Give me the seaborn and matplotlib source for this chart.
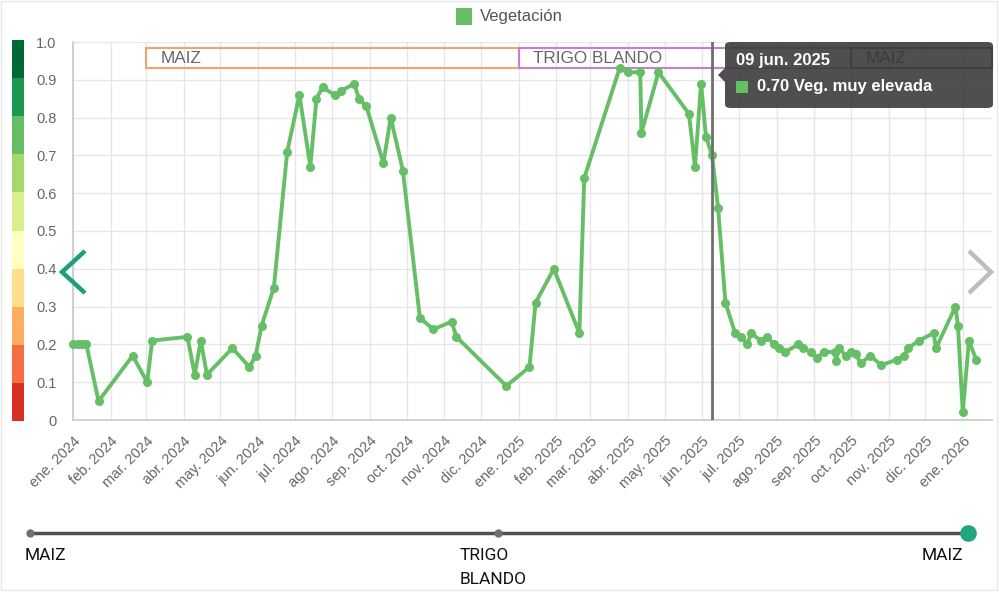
import matplotlib
matplotlib.use("Agg")
import matplotlib.pyplot as plt
import matplotlib.dates as mdates
from matplotlib.patches import Rectangle, FancyBboxPatch, Polygon
from matplotlib.lines import Line2D
import seaborn as sns
import pandas as pd
import numpy as np

# ---------------- data ----------------
fechas = [
    "2024-01-01", "2024-01-05", "2024-01-08", "2024-01-12", "2024-01-22", "2024-02-19",
    "2024-03-02", "2024-03-06", "2024-04-04", "2024-04-10", "2024-04-15", "2024-04-20",
    "2024-05-11", "2024-05-25", "2024-05-30", "2024-06-04", "2024-06-14", "2024-06-25",
    "2024-07-05", "2024-07-14", "2024-07-19", "2024-07-24", "2024-08-03", "2024-08-08",
    "2024-08-19", "2024-08-23", "2024-08-29", "2024-09-12", "2024-09-18", "2024-09-28",
    "2024-10-12", "2024-10-23", "2024-11-07", "2024-11-11", "2024-12-22", "2025-01-10",
    "2025-01-15", "2025-01-30", "2025-02-20", "2025-02-24", "2025-03-25", "2025-04-01",
    "2025-04-11", "2025-04-12", "2025-04-26", "2025-05-21", "2025-05-26", "2025-05-31",
    "2025-06-04", "2025-06-09", "2025-06-14", "2025-06-20", "2025-06-28", "2025-07-03",
    "2025-07-08", "2025-07-11", "2025-07-19", "2025-07-24", "2025-07-30", "2025-08-03",
    "2025-08-08", "2025-08-19", "2025-08-23", "2025-08-29", "2025-09-03", "2025-09-09",
    "2025-09-18", "2025-09-19", "2025-09-21", "2025-09-27", "2025-10-01", "2025-10-05",
    "2025-10-09", "2025-10-17", "2025-10-26", "2025-11-08", "2025-11-14", "2025-11-17",
    "2025-11-26", "2025-12-08", "2025-12-10", "2025-12-26", "2025-12-28", "2026-01-01",
    "2026-01-06", "2026-01-12",
]
valores = [
    0.20, 0.20, 0.20, 0.20, 0.05, 0.17,
    0.10, 0.21, 0.22, 0.12, 0.21, 0.12,
    0.19, 0.14, 0.17, 0.25, 0.35, 0.71,
    0.86, 0.67, 0.85, 0.88, 0.86, 0.87,
    0.89, 0.85, 0.83, 0.68, 0.80, 0.66,
    0.27, 0.24, 0.26, 0.22, 0.09, 0.14,
    0.31, 0.40, 0.23, 0.64, 0.93, 0.92,
    0.92, 0.76, 0.92, 0.81, 0.67, 0.89,
    0.75, 0.70, 0.56, 0.31, 0.23, 0.22,
    0.20, 0.23, 0.21, 0.22, 0.20, 0.19,
    0.18, 0.20, 0.19, 0.18, 0.165, 0.18,
    0.18, 0.155, 0.19, 0.17, 0.18, 0.175,
    0.15, 0.17, 0.145, 0.16, 0.17, 0.19,
    0.21, 0.23, 0.19, 0.30, 0.25, 0.02,
    0.21, 0.16,
]

meses = ["ene.", "feb.", "mar.", "abr.", "may.", "jun.", "jul.", "ago.", "sep.", "oct.", "nov.", "dic."]
tick_fechas = pd.date_range("2024-01-01", "2026-01-01", freq="MS")
tick_labels = [f"{meses[d.month - 1]} {d.year}" for d in tick_fechas]

y_ticks = [0, 0.1, 0.2, 0.3, 0.4, 0.5, 0.6, 0.7, 0.8, 0.9, 1.0]
y_labels = ["0", "0.1", "0.2", "0.3", "0.4", "0.5", "0.6", "0.7", "0.8", "0.9", "1.0"]

cultivos = ["MAIZ", "TRIGO BLANDO", "MAIZ"]
cult_inicio = ["2024-03-01", "2025-01-01", "2025-10-01"]
cult_fin = ["2025-01-01", "2025-10-01", "2026-01-25"]
cult_color = ["#f2a36b", "#c67fd0", "#2f6e52"]
cult_text = ["#666666", "#666666", "#333333"]

escala_colores = ["#d73027", "#f46d43", "#fdae61", "#fee08b", "#ffffbf",
                  "#d9ef8b", "#a6d96a", "#66bd63", "#1a9850", "#006837"]

tooltip_fecha = "09 jun. 2025"
tooltip_texto = "0.70 Veg. muy elevada"

slider_labels = ["MAIZ", "TRIGO", "BLANDO", "MAIZ"]

GREEN = "#66bf66"
W, H = 999, 592

sns.set_theme(style="white")
plt.rcParams["font.family"] = ["Liberation Sans", "DejaVu Sans"]

df = pd.DataFrame({"fecha": pd.to_datetime(fechas), "valor": valores})

fig = plt.figure(figsize=(W / 100, H / 100), dpi=100)
fig.patch.set_facecolor("white")


def fx(x):
    return x / W


def fy(y):
    return 1 - y / H


ax = fig.add_axes([fx(73), fy(420), (992 - 73) / W, (420 - 42) / H])
ax.set_facecolor("white")

x0 = pd.Timestamp("2024-01-01")
x1 = pd.Timestamp("2026-01-25")
ax.set_xlim(x0, x1)
ax.set_ylim(0, 1.0)

# grid
ax.set_xticks(tick_fechas)
ax.set_xticklabels(tick_labels, rotation=45, ha="right", rotation_mode="anchor",
                   fontsize=10.5, color="#666666")
ax.set_yticks(y_ticks)
ax.set_yticklabels(y_labels, fontsize=10.5, color="#666666")
ax.grid(True, color="#e6e6e6", linewidth=1.0)
ax.set_axisbelow(True)
ax.tick_params(axis="x", length=9, color="#cccccc", width=1, pad=1)
ax.tick_params(axis="y", length=11, color="#dddddd", width=1, pad=1)
for s in ["top", "right"]:
    ax.spines[s].set_visible(False)
for s in ["left", "bottom"]:
    ax.spines[s].set_color("#c8c8c8")
    ax.spines[s].set_linewidth(1.2)

# crop period boxes
for nombre, ini, fin, col, tc in zip(cultivos, cult_inicio, cult_fin, cult_color, cult_text):
    a = mdates.date2num(pd.Timestamp(ini))
    b = mdates.date2num(pd.Timestamp(fin))
    ax.add_patch(Rectangle((a, 0.931), b - a, 0.053, fill=False, edgecolor=col,
                           linewidth=1.5, zorder=2, clip_on=False))
    ax.text(a + 12, 0.956, nombre, fontsize=12.3, color=tc, va="center", ha="left", zorder=2)

# main series
sns.lineplot(data=df, x="fecha", y="valor", ax=ax, color=GREEN, linewidth=2.8,
             marker="o", markersize=6.5, markeredgewidth=0, clip_on=False, zorder=4)
ax.set_xlabel("")
ax.set_ylabel("")

# cursor line
ax.axvline(pd.Timestamp("2025-06-09"), color="#6e6e6e", linewidth=2, zorder=5)

# tooltip (figure coordinates)
tip = FancyBboxPatch((fx(725), fy(108)), fx(993) - fx(725), fy(42) - fy(108),
                     boxstyle="round,pad=0,rounding_size=0.006",
                     transform=fig.transFigure, facecolor="#3c3c3c", edgecolor="none",
                     alpha=0.9, zorder=10)
fig.add_artist(tip)
fig.add_artist(Polygon([(fx(725), fy(68)), (fx(718), fy(75)), (fx(725), fy(82))],
                       closed=True, transform=fig.transFigure, facecolor="#3c3c3c",
                       edgecolor="none", alpha=0.9, zorder=10))
fig.text(fx(736), fy(61), tooltip_fecha, color="white", fontsize=12, fontweight="bold",
         va="center", ha="left", zorder=11)
fig.add_artist(Rectangle((fx(736), fy(93)), fx(12), fy(81) - fy(93), transform=fig.transFigure,
                         facecolor=GREEN, edgecolor="none", zorder=11))
fig.text(fx(757), fy(87), tooltip_texto, color="white", fontsize=12, fontweight="bold",
         va="center", ha="left", zorder=11)

# legend
fig.add_artist(Rectangle((fx(456), fy(25)), fx(16), fy(8) - fy(25), transform=fig.transFigure,
                         facecolor=GREEN, edgecolor="none"))
fig.text(fx(480), fy(16), "Vegetación", fontsize=12, color="#555555", va="center", ha="left")

# colour scale on the left
cax = fig.add_axes([fx(12), fy(421), 12 / W, (421 - 40) / H])
cax.bar([0] * 10, [0.1] * 10, bottom=np.arange(10) * 0.1, width=1, color=escala_colores,
        linewidth=0, align="edge")
cax.set_xlim(0, 1)
cax.set_ylim(0, 1)
cax.axis("off")

# navigation arrows
fig.add_artist(Line2D([fx(85), fx(62), fx(85)], [fy(251), fy(272), fy(293)],
                      transform=fig.transFigure, color="#1f9e78", linewidth=3.2,
                      solid_capstyle="butt", solid_joinstyle="miter"))
fig.add_artist(Line2D([fx(969), fx(991), fx(969)], [fy(251), fy(272), fy(293)],
                      transform=fig.transFigure, color="#bdbdbd", linewidth=3.2,
                      solid_capstyle="butt", solid_joinstyle="miter"))

# bottom slider
fig.add_artist(Line2D([fx(30), fx(968)], [fy(533), fy(533)], transform=fig.transFigure,
                      color="#505050", linewidth=2.5))
for xp in [30, 498]:
    fig.add_artist(Line2D([fx(xp)], [fy(533)], transform=fig.transFigure, marker="o",
                          markersize=6, color="#707070", markeredgewidth=0))
fig.add_artist(Line2D([fx(968)], [fy(533)], transform=fig.transFigure, marker="o",
                      markersize=12, color="#23a57c", markeredgewidth=0))
slider_pos = [(25, 555), (460, 555), (460, 580), (922, 555)]
for lab, (px_, py_) in zip(slider_labels, slider_pos):
    fig.text(fx(px_), fy(py_), lab, fontsize=12.5, color="#111111", ha="left",
             va="center", family="Roboto")

# card border
fig.add_artist(Rectangle((fx(1), fy(590)), fx(996), fy(1) - fy(590), transform=fig.transFigure,
                         fill=False, edgecolor="#e8e8e8", linewidth=1))

fig.savefig("out.png", dpi=100, facecolor="white")
